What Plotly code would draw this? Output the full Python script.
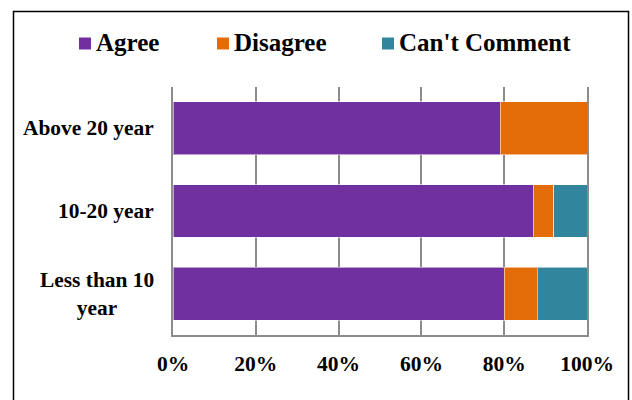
import plotly.graph_objects as go

# Experience groups, listed top to bottom
categories = ["Above 20 year", "10-20 year", "Less than 10<br>year"]
series_names = ["Agree", "Disagree", "Can't Comment"]
agree = [79, 87, 80]
disagree = [21, 5, 8]
cant_comment = [0, 8, 12]
x_ticks = [0, 20, 40, 60, 80, 100]

colors = ["#7030A0", "#E36C09", "#31859C"]
FONT = "Liberation Serif"

W, H = 632, 400
L, R, T, B = 173, 45, 87, 65
PW, PH = W - L - R, H - T - B


def px_x(x):
    return (x - L) / PW


def px_y(y):
    return (H - B - y) / PH


fig = go.Figure()
for name, vals, col in zip(series_names, [agree, disagree, cant_comment], colors):
    fig.add_trace(go.Bar(
        y=categories, x=vals, name=name, orientation="h",
        marker=dict(color=col, line=dict(color="rgba(255,255,255,0.55)", width=1)),
        showlegend=False, hoverinfo="x+name",
    ))

annotations = []
# category labels, centred lines to the left of the axis
for c in categories:
    annotations.append(dict(
        x=0, xref="paper", xshift=-17, xanchor="right",
        y=c, yref="y", yanchor="middle", align="center",
        text=c, showarrow=False,
        font=dict(family=FONT, size=21.4, color="black", weight="bold"),
    ))

# legend row across the top
shapes = []
legend_x = [79, 217, 382]
for name, col, lx in zip(series_names, colors, legend_x):
    shapes.append(dict(
        type="rect", xref="paper", yref="paper",
        x0=px_x(lx), x1=px_x(lx + 12), y0=px_y(49.5), y1=px_y(37.5),
        fillcolor=col, line=dict(width=0),
    ))
    annotations.append(dict(
        x=px_x(lx + 15), xref="paper", xanchor="left",
        y=px_y(42), yref="paper", yanchor="middle",
        text=name, showarrow=False,
        font=dict(family=FONT, size=25, color="black", weight="bold"),
    ))

# outer chart border
shapes.append(dict(
    type="rect", xref="paper", yref="paper",
    x0=px_x(13.5), x1=px_x(628.5), y0=px_y(405), y1=px_y(11.5),
    line=dict(color="black", width=1.5), layer="above",
))

fig.update_layout(
    width=W, height=H,
    margin=dict(l=L, r=R, t=T, b=B),
    barmode="stack", bargap=0.36,
    plot_bgcolor="white", paper_bgcolor="white",
    font=dict(family=FONT, color="black", weight="bold"),
    annotations=annotations, shapes=shapes,
    xaxis=dict(
        range=[0, 100], tickvals=x_ticks, ticktext=[f"{v}%" for v in x_ticks],
        showgrid=True, gridcolor="#8c8c8c", gridwidth=2,
        showline=True, linecolor="#8c8c8c", linewidth=2,
        zeroline=False, ticks="", ticklabelstandoff=8,
        tickfont=dict(family=FONT, size=21.5, color="black", weight="bold"),
        fixedrange=True,
    ),
    yaxis=dict(
        range=[2.5, -0.5], showticklabels=False, showgrid=False,
        showline=True, mirror=True, linecolor="#8c8c8c", linewidth=2,
        zeroline=False, ticks="", fixedrange=True,
    ),
)

fig.write_html("out.html")
